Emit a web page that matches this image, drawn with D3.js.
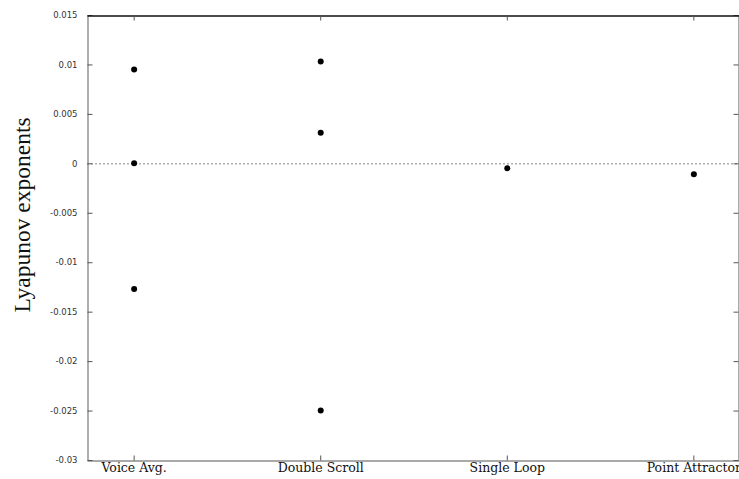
<!DOCTYPE html>
<html>
<head>
<meta charset="utf-8">
<script src="https://cdn.jsdelivr.net/npm/d3@7"></script>
<style>
  body { margin: 0; background: #fff; }
  svg { display: block; }
</style>
</head>
<body>
<div id="chart"></div>
<script>
// Data
const categories = ["Voice Avg.", "Double Scroll", "Single Loop", "Point Attractor"]
const voiceAvg = [0.0095, 0.0000, -0.0127]
const doubleScroll = [0.0103, 0.0031, -0.0250]
const singleLoop = [-0.0005]
const pointAttractor = [-0.0011]
const yTicks = [0.015, 0.01, 0.005, 0, -0.005, -0.01, -0.015, -0.02, -0.025, -0.03]
const yTickLabels = ["0.015", "0.01", "0.005", "0", "-0.005", "-0.01", "-0.015", "-0.02", "-0.025", "-0.03"]

const seriesByCat = [voiceAvg, doubleScroll, singleLoop, pointAttractor]
const points = []
seriesByCat.forEach(function(vals, i) {
    vals.forEach(function(v) { points.push({ cat: i + 1, value: v }) })
})

const W = 739, H = 479
const margin = { top: 15, right: -1, bottom: 19, left: 87 }

const svg = d3.select("#chart").append("svg")
    .attr("width", W)
    .attr("height", H)

const x = d3.scaleLinear().domain([0.75, 4.25]).range([margin.left, W - margin.right])
const y = d3.scaleLinear().domain([-0.03, 0.015]).range([H - margin.bottom, margin.top])

// zero line
svg.append("line")
    .attr("x1", x(0.75)).attr("x2", x(4.25))
    .attr("y1", y(0) + 0.5).attr("y2", y(0) + 0.5)
    .attr("stroke", "#888")
    .attr("stroke-width", 1)
    .attr("stroke-dasharray", "2,2")

// Left axis (ticks inward)
const yAxis = d3.axisLeft(y)
    .tickValues(yTicks)
    .tickFormat((d, i) => yTickLabels[i])
    .tickSizeInner(-5)
    .tickSizeOuter(0)
    .tickPadding(10)

const gy = svg.append("g")
    .attr("transform", "translate(" + (margin.left + 0.5) + ",0)")
    .call(yAxis)
gy.select(".domain").attr("stroke", "#777").attr("stroke-width", 1.2)
gy.selectAll(".tick line").attr("stroke", "#555")
gy.selectAll(".tick text")
    .attr("font-family", "DejaVu Sans, sans-serif")
    .attr("font-size", 8.5)
    .attr("fill", "#333")

// Right axis
const gyr = svg.append("g")
    .attr("transform", "translate(" + (W - 0.5) + ",0)")
    .call(d3.axisRight(y).tickValues(yTicks).tickFormat("").tickSizeInner(-5).tickSizeOuter(0))
gyr.selectAll(".tick line").attr("stroke", "#555")
gyr.select(".domain").attr("stroke", "#555")

// Bottom axis
const xAxis = d3.axisBottom(x)
    .tickValues([1, 2, 3, 4])
    .tickFormat((d, i) => categories[i])
    .tickSizeInner(-5)
    .tickSizeOuter(0)
    .tickPadding(3)

const gx = svg.append("g")
    .attr("transform", "translate(0," + (y(-0.03) + 0.5) + ")")
    .call(xAxis)
gx.select(".domain").attr("stroke", "#555").attr("stroke-width", 1.2)
gx.selectAll(".tick line").attr("stroke", "#555")
gx.selectAll(".tick text")
    .attr("font-family", "DejaVu Serif, serif")
    .attr("font-size", 12.5)
    .attr("fill", "#111")

// Top axis
const gt = svg.append("g")
    .attr("transform", "translate(0," + (y(0.015) + 0.5) + ")")
    .call(d3.axisTop(x).tickValues([1, 2, 3, 4]).tickFormat("").tickSizeInner(-5).tickSizeOuter(0))
gt.select(".domain").attr("stroke", "#111").attr("stroke-width", 1.6)
gt.selectAll(".tick line").attr("stroke", "#555")

// Y label
svg.append("text")
    .attr("transform", "translate(30,215) rotate(-90)")
    .attr("text-anchor", "middle")
    .attr("font-family", "Liberation Serif, Times New Roman, serif")
    .attr("font-size", 23.5)
    .attr("fill", "#111")
    .text("Lyapunov exponents")

// Points
svg.append("g").selectAll("circle")
    .data(points)
    .join("circle")
    .attr("cx", d => x(d.cat) + 0.5)
    .attr("cy", d => y(d.value))
    .attr("r", 3)
    .attr("fill", "#000")
</script>
</body>
</html>
